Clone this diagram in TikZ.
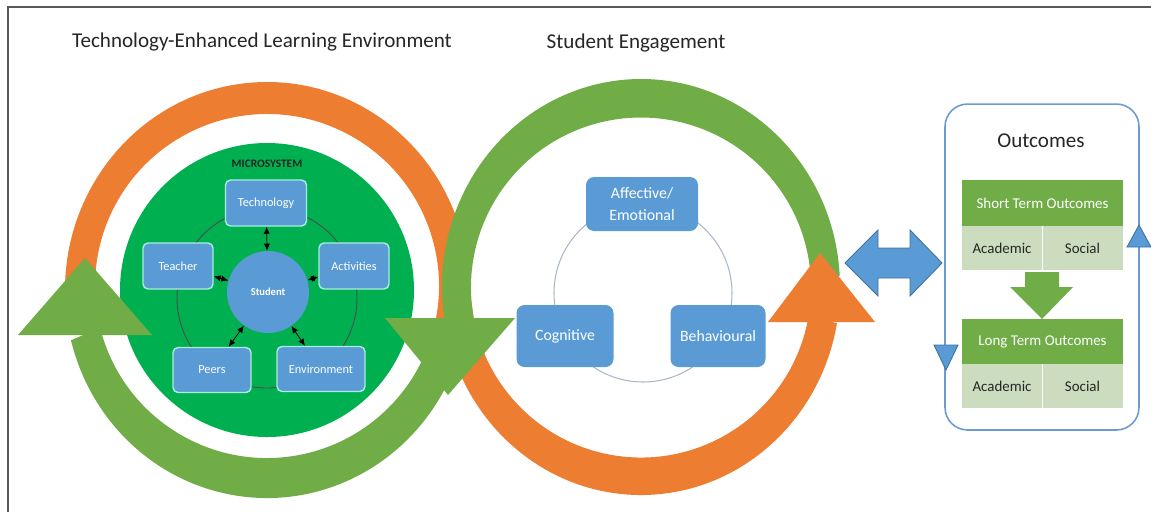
\documentclass[tikz,border=0pt]{standalone}
\usepackage{fontspec}
\setmainfont{Carlito}
\usetikzlibrary{calc, arrows.meta, positioning}
\usepackage{xcolor}
\definecolor{ringorange}{HTML}{ED7D31}
\definecolor{ringgreen}{HTML}{70AD47}
\definecolor{microgreen}{HTML}{00B050}
\definecolor{boxblue}{HTML}{5B9BD5}
\definecolor{boxmint}{HTML}{A6EEDD}
\definecolor{darkblue}{HTML}{41719C}
\definecolor{outblue}{HTML}{6E9BCF}
\definecolor{rowgreen}{HTML}{CBDDBE}
\definecolor{ringgray}{HTML}{A9B7C9}
\definecolor{titlegray}{HTML}{262626}

\begin{document}
\begin{tikzpicture}[x=0.02cm, y=0.02cm, >=latex]
	\tikzstyle{title} = [text=titlegray, font=\fontsize{12}{14}\selectfont]
	\tikzstyle{micro} = [draw=boxmint, line width=0.8pt, fill=boxblue, rounded corners=0.1cm, text=white, font=\fontsize{7}{8}\selectfont, minimum height=0.92cm, inner sep=1pt]
	\tikzstyle{engage} = [fill=boxblue, rounded corners=0.16cm, text=white, font=\fontsize{9}{13}\selectfont, align=center, minimum height=1.24cm, inner sep=1pt]
	\tikzstyle{head} = [fill=ringgreen, text=white, font=\fontsize{8.5}{10}\selectfont, minimum width=3.22cm, minimum height=0.92cm, inner sep=1pt]
	\tikzstyle{cell} = [fill=rowgreen, text=titlegray, font=\fontsize{8.5}{10}\selectfont, minimum height=0.88cm, inner sep=1pt]
	\tikzstyle{arrow} = [<->, >={Latex[length=4pt, width=3.5pt]}, black, thin]
	\tikzstyle{tip} = [fill=boxblue, draw=darkblue, line width=0.5pt]

	\useasboundingbox (0,0) rectangle (1151,-512);
	\draw[black!65, line width=1.2pt] (8,-512) -- (8,-7) -- (1151,-7);

	% titles
	\node[title] at (262,-42) (tle) {Technology-Enhanced Learning Environment};
	\node[title] at (636,-43) (eng) {Student Engagement};

	% the two loops (outer edge a little wider than the inner one)
	\coordinate (lc) at (267,-290);
	\coordinate (lci) at (267,-286);
	\coordinate (rc) at (641,-287);
	\coordinate (rci) at (641,-287.5);
	\fill[microgreen] (lc) circle[radius=147];
	\fill[ringorange] ($(lc)+(185:202 and 208)$) arc[start angle=185, end angle=-25, x radius=202, y radius=208]
		-- ($(lci)+(-25:172)$) arc[start angle=-25, end angle=185, radius=172] -- cycle;
	\fill[ringorange] ($(rc)+(185:199 and 208)$) arc[start angle=185, end angle=350, x radius=199, y radius=208]
		-- ($(rci)+(350:170)$) arc[start angle=350, end angle=185, radius=170] -- cycle;
	\fill[ringgreen] ($(lc)+(-15:202 and 208)$) arc[start angle=-15, end angle=-166, x radius=202, y radius=208]
		-- ($(lci)+(-166:172)$) arc[start angle=-166, end angle=-15, radius=172] -- cycle;
	\fill[ringgreen] ($(rc)+(3:199 and 208)$) arc[start angle=3, end angle=190, x radius=199, y radius=208]
		-- ($(rci)+(190:170)$) arc[start angle=190, end angle=3, radius=170] -- cycle;
	\fill[ringgreen] (18,-335) -- (152,-335) -- (85,-258) -- cycle;
	\fill[ringgreen] (385,-318) -- (515,-318) -- (448,-395) -- cycle;
	\fill[ringorange] (768,-322) -- (875,-322) -- (820,-253) -- cycle;

	% microsystem
	\node[font=\fontsize{6.5}{8}\selectfont\bfseries, text=black!85] at (267,-164) (ms) {MICROSYSTEM};
	\draw[black!70, line width=0.5pt] (267,-298) circle[radius=90];
	\node[circle, fill=boxblue, minimum size=1.64cm, text=white, font=\fontsize{6}{7}\selectfont\bfseries] at (268,-292) (stu) {Student};
	\node[micro, minimum width=1.62cm] at (266,-203) (tech) {Technology};
	\node[micro, minimum width=1.4cm] at (178,-266) (teach) {Teacher};
	\node[micro, minimum width=1.4cm] at (354,-266) (act) {Activities};
	\node[micro, minimum width=1.56cm, minimum height=0.9cm] at (212,-370) (peer) {Peers};
	\node[micro, minimum width=1.76cm, minimum height=0.9cm] at (321,-369) (env) {Environment};

	\draw [arrow] (tech) -- (stu);
	\draw [arrow] (teach) -- (stu);
	\draw [arrow] (act) -- (stu);
	\draw [arrow] (peer) -- (stu);
	\draw [arrow] (env) -- (stu);

	% engagement
	\draw[ringgray, line width=0.6pt] (643,-293) circle[radius=89];
	\node[engage, minimum width=2.24cm, minimum height=1.08cm] at (642,-204) (aff) {Affective/\\Emotional};
	\node[engage, minimum width=1.94cm] at (565,-336) (cog) {Cognitive};
	\node[engage, minimum width=1.9cm] at (718,-336) (beh) {Behavioural};

	% link to outcomes
	\filldraw[tip] (845,-263) -- (878,-230) -- (878,-248) -- (910,-248) -- (910,-230) -- (942,-263)
		-- (910,-296) -- (910,-278) -- (878,-278) -- (878,-296) -- cycle;

	% outcomes
	\node[draw=outblue, line width=0.9pt, rounded corners=0.45cm, minimum width=3.88cm, minimum height=6.52cm] at (1042,-267) (outbox) {};
	\node[title] at (1041,-141) (out) {Outcomes};
	\filldraw[tip] (1127,-247) -- (1151,-247) -- (1139,-225) -- cycle;
	\filldraw[tip] (934,-345) -- (958,-345) -- (946,-370) -- cycle;

	\node[head] at (1042.5,-203) (sth) {Short Term Outcomes};
	\node[cell, minimum width=1.6cm] at (1002,-248) (sta) {Academic};
	\node[cell, minimum width=1.62cm] at (1082.5,-248) (sts) {Social};
	\draw[white, line width=0.6pt] (sta.north east) -- (sta.south east);

	\fill[ringgreen] (1025,-272) -- (1059,-272) -- (1059,-287) -- (1073,-287) -- (1042,-319) -- (1010,-287) -- (1025,-287) -- cycle;

	\node[head] at (1042.5,-342) (lth) {Long Term Outcomes};
	\node[cell, minimum width=1.6cm] at (1002,-386) (lta) {Academic};
	\node[cell, minimum width=1.62cm] at (1082.5,-386) (lts) {Social};
	\draw[white, line width=0.6pt] (lta.north east) -- (lta.south east);
\end{tikzpicture}
\end{document}
